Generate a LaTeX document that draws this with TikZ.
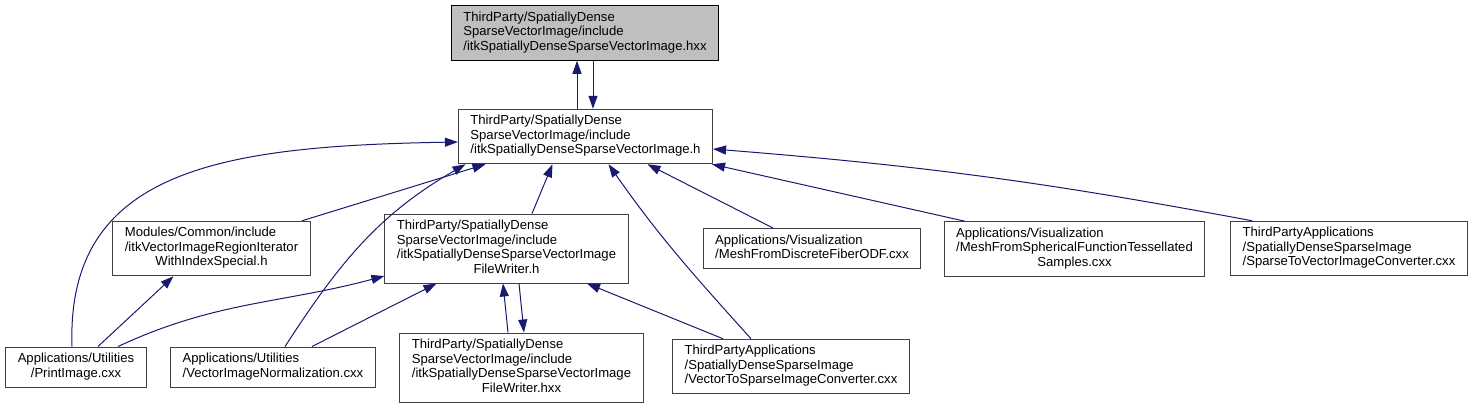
\documentclass[tikz,border=0pt]{standalone}
\usepackage{fontspec}
\setmainfont{Liberation Sans}
\usetikzlibrary{arrows.meta}
\definecolor{edgeblue}{HTML}{191970}
\definecolor{boxgrey}{HTML}{404040}
\definecolor{rootfill}{HTML}{BFBFBF}
\newcommand{\flines}[1]{\begin{tabular}{@{}l@{}}#1\end{tabular}}
\newcommand{\lastc}[1]{\multicolumn{1}{@{}c@{}}{#1}}
\tikzset{
  filebox/.style={draw=boxgrey, line width=1pt, fill=white, inner xsep=12pt,
                  inner ysep=5.5pt, font=\fontsize{13.1}{14.5}\selectfont},
  rootbox/.style={filebox, draw=black, fill=rootfill},
  inc/.style={-{Triangle[length=13pt,width=9pt]}, line width=1pt, color=edgeblue}}

\begin{document}
\begin{tikzpicture}[x=1pt, y=1pt]
  \useasboundingbox (0,0) rectangle (1473,-408);
  \node[rootbox] (svihxx) at (585,-33)
    {\flines{ThirdParty/SpatiallyDense\\SparseVectorImage/include\\/itkSpatiallyDenseSparseVectorImage.hxx}};
  \node[filebox] (svih) at (585.5,-136.5)
    {\flines{ThirdParty/SpatiallyDense\\SparseVectorImage/include\\/itkSpatiallyDenseSparseVectorImage.h}};
  \node[filebox] (iter) at (211.5,-248.5)
    {\flines{Modules/Common/include\\/itkVectorImageRegionIterator\\\lastc{WithIndexSpecial.h}}};
  \node[filebox] (fwh) at (506.5,-248.5)
    {\flines{ThirdParty/SpatiallyDense\\SparseVectorImage/include\\/itkSpatiallyDenseSparseVectorImage\\\lastc{FileWriter.h}}};
  \node[filebox] (odf) at (812,-248.5)
    {\flines{Applications/Visualization\\/MeshFromDiscreteFiberODF.cxx}};
  \node[filebox] (sph) at (1074.5,-249)
    {\flines{Applications/Visualization\\/MeshFromSphericalFunctionTessellated\\\lastc{Samples.cxx}}};
  \node[filebox] (s2v) at (1349,-248.5)
    {\flines{ThirdPartyApplications\\/SpatiallyDenseSparseImage\\/SparseToVectorImageConverter.cxx}};
  \node[filebox] (print) at (76,-367)
    {\flines{Applications/Utilities\\\lastc{/PrintImage.cxx}}};
  \node[filebox] (norm) at (273,-367)
    {\flines{Applications/Utilities\\/VectorImageNormalization.cxx}};
  \node[filebox] (fwhxx) at (521.5,-367.5)
    {\flines{ThirdParty/SpatiallyDense\\SparseVectorImage/include\\/itkSpatiallyDenseSparseVectorImage\\\lastc{FileWriter.hxx}}};
  \node[filebox] (v2s) at (791,-366.5)
    {\flines{ThirdPartyApplications\\/SpatiallyDenseSparseImage\\/VectorToSparseImageConverter.cxx}};

  \draw[inc] ([xshift=-8.5pt]svih.north) -- ([xshift=-8pt]svihxx.south);
  \draw[inc] ([xshift=8pt]svihxx.south) -- ([xshift=7.5pt]svih.north);
  \draw[inc] ([xshift=-4pt]print.north) .. controls +(-6,177) and +(-237,-4) .. ([yshift=-5.5pt]svih.west);
  \draw[inc] ([xshift=90.5pt]iter.north) -- ([xshift=-100pt]svih.south);
  \draw[inc] ([xshift=12pt]norm.north) to[out=57,in=-150] ([xshift=-120pt]svih.south);
  \draw[inc] ([xshift=25.5pt]fwh.north) -- ([xshift=-33pt]svih.south);
  \draw[inc] ([xshift=-40pt]v2s.north) to[out=132,in=-55] ([xshift=23pt]svih.south);
  \draw[inc] ([xshift=-39pt]odf.north) -- ([xshift=62pt]svih.south);
  \draw[inc] ([xshift=-109.5pt]sph.north) -- ([xshift=-1pt]svih.south east);
  \draw[inc] ([xshift=-97pt]s2v.north) to[bend right=3] ([yshift=-12.5pt]svih.east);
  \draw[inc] ([xshift=22pt]print.north) -- ([xshift=-38pt]iter.south);
  \draw[inc] ([xshift=42pt]print.north) to[out=25,in=-165] ([yshift=-27.5pt]fwh.west);
  \draw[inc] ([xshift=39pt]norm.north) -- ([xshift=-70pt]fwh.south);
  \draw[inc] ([xshift=-13.5pt]fwhxx.north) -- ([xshift=-3.5pt]fwh.south);
  \draw[inc] ([xshift=12.5pt]fwh.south) -- ([xshift=2.5pt]fwhxx.north);
  \draw[inc] ([xshift=-68pt]v2s.north) -- ([xshift=80.5pt]fwh.south);
\end{tikzpicture}
\end{document}
